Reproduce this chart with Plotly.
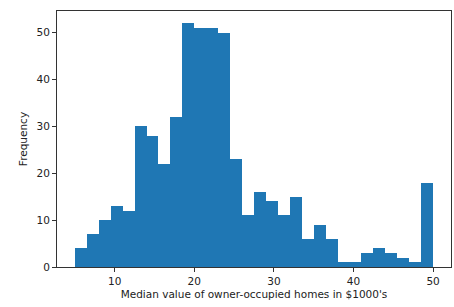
import plotly.graph_objects as go

bin_starts = [5 + 1.5 * i for i in range(30)]
counts = [4, 7, 10, 13, 12, 30, 28, 22, 32, 52, 51, 51, 50, 23, 11, 16, 14, 11, 15, 6,
          9, 6, 1, 1, 3, 4, 3, 2, 1, 18]
bin_width = 1.5
x_ticks = [10, 20, 30, 40, 50]
y_ticks = [0, 10, 20, 30, 40, 50]

centers = [s + bin_width / 2 for s in bin_starts]

fig = go.Figure(go.Bar(x=centers, y=counts, width=bin_width,
                       marker=dict(color="#1f77b4", line=dict(width=0))))

axis_common = dict(showline=True, linecolor="#333333", linewidth=1, mirror=True,
                   ticks="outside", ticklen=4, tickcolor="#333333", showgrid=False,
                   zeroline=False, automargin=False,
                   tickfont=dict(family="DejaVu Sans", size=10.5, color="#222222"))

fig.update_layout(
    width=454, height=307,
    margin=dict(l=57, r=3, t=11, b=40),
    plot_bgcolor="white", paper_bgcolor="white",
    bargap=0, showlegend=False,
    xaxis=dict(range=[2.75, 52.25], tickvals=x_ticks,
               title=dict(text="Median value of owner-occupied homes in $1000's",
                          font=dict(family="DejaVu Sans", size=10.5, color="#222222"), standoff=5),
               **axis_common),
    yaxis=dict(range=[0, 54.6], tickvals=y_ticks,
               title=dict(text="Frequency", font=dict(family="DejaVu Sans", size=10.5, color="#222222"),
                          standoff=6),
               **axis_common),
)

fig.write_html("out.html",
               config={"displayModeBar": False},
               post_script="document.body.style.margin='0';document.body.style.overflow='hidden';")
